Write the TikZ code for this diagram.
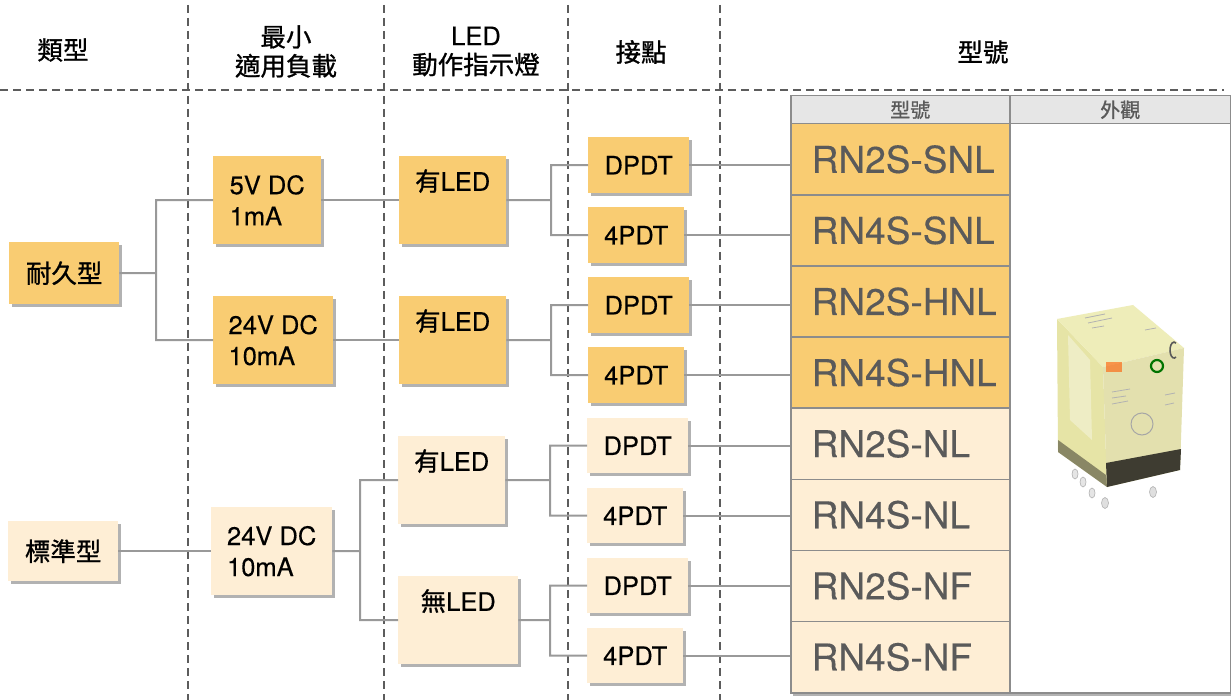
\documentclass[tikz,border=0pt]{standalone}
\usepackage{fontspec}
\setmainfont{TeX Gyre Heros}[FakeBold=0.3]
\newfontfamily\cjk{Noto Sans CJK TC}[FakeBold=1.0]
\usetikzlibrary{shadows}
\definecolor{boxO}{HTML}{F9CC72}
\definecolor{boxL}{HTML}{FEEED5}
\definecolor{connc}{HTML}{999999}
\definecolor{dashc}{HTML}{5C5C5C}
\definecolor{txtg}{HTML}{5A5A5A}
\definecolor{hdrg}{HTML}{E6E6E6}
\definecolor{tline}{HTML}{8C8C8C}
\definecolor{rtop}{HTML}{EEEDB9}
\definecolor{rleft}{HTML}{E6E4A6}
\definecolor{rfront}{HTML}{E3E0AE}
\definecolor{rbase}{HTML}{3E3C31}
\begin{document}
\begin{tikzpicture}[x=1pt,y=-1pt,
  bx/.style={anchor=north west, inner sep=0pt, align=center,
    font=\fontsize{25.5}{31}\selectfont,
    drop shadow={shadow xshift=2.5pt, shadow yshift=-2.5pt, opacity=0.3, fill=black}},
  hi/.style={bx, fill=boxO},
  lo/.style={bx, fill=boxL},
  wire/.style={draw=connc, line width=2pt},
  sepline/.style={draw=dashc, line width=2.5pt, dash pattern=on 8pt off 5pt},
  hdr/.style={font=\fontsize{25.5}{29}\selectfont, align=center, inner sep=0pt},
  cell/.style={anchor=north west, inner sep=0pt, minimum width=219pt, minimum height=71.1pt,
    draw=tline, line width=1.5pt, text width=219pt, align=left,
    font=\fontsize{37}{40}\selectfont, text=txtg},
  thcell/.style={anchor=north west, inner sep=0pt, minimum height=28pt, fill=hdrg,
    draw=tline, line width=1.5pt, font=\fontsize{20}{22}\selectfont, text=txtg},
]
\useasboundingbox (0,0) rectangle (1231,700);

% separators
\draw[sepline] (188,5) -- (188,700);
\draw[sepline] (384,5) -- (384,700);
\draw[sepline] (568,5) -- (568,700);
\draw[sepline] (720,5) -- (720,700);
\draw[sepline] (0,90) -- (1224,90);

% headers
\node[hdr] (hType) at (63,50) {{\cjk 類型}};
\node[hdr] (hLoad) at (286,51.5) {{\cjk 最小}\\{\cjk 適用負載}};
\node[hdr] (hLed) at (476,51.5) {LED\\{\cjk 動作指示燈}};
\node[hdr] (hCon) at (641,52) {{\cjk 接點}};
\node[hdr] (hMod) at (983,52) {{\cjk 型號}};

% table
\node[anchor=north west, inner sep=0pt, minimum width=440pt, minimum height=597pt,
  fill=white, draw=tline, line width=1.5pt,
  drop shadow={shadow xshift=2.5pt, shadow yshift=-3pt, opacity=0.3, fill=black}] (tbl) at (790,95) {};
\node[thcell, minimum width=219pt] (th1) at (790,95) {\hspace*{20pt}{\cjk 型號}};
\node[thcell, minimum width=221pt] (th2) at (1009,95) {{\cjk 外觀}};
\node[cell, fill=boxO] (r1) at (790,123.0) {\hspace*{21pt}RN2S-SNL};
\node[cell, fill=boxO] (r2) at (790,194.1) {\hspace*{21pt}RN4S-SNL};
\node[cell, fill=boxO] (r3) at (790,265.2) {\hspace*{21pt}RN2S-HNL};
\node[cell, fill=boxO] (r4) at (790,336.3) {\hspace*{21pt}RN4S-HNL};
\node[cell, fill=boxL] (r5) at (790,407.4) {\hspace*{21pt}RN2S-NL};
\node[cell, fill=boxL] (r6) at (790,478.5) {\hspace*{21pt}RN4S-NL};
\node[cell, fill=boxL] (r7) at (790,549.6) {\hspace*{21pt}RN2S-NF};
\node[cell, fill=boxL] (r8) at (790,620.7) {\hspace*{21pt}RN4S-NF};
\node[anchor=north west, inner sep=0pt, minimum width=221pt, minimum height=569pt,
  draw=tline, line width=1.5pt, fill=white] (imgc) at (1009,123) {};

% relay picture
\fill[rleft] (1057,319) -- (1103,367) -- (1107,487) -- (1058,452) -- cycle;
\fill[rtop] (1057,319) -- (1133,305) -- (1184,348) -- (1103,367) -- cycle;
\fill[rfront] (1103,367) -- (1184,348) -- (1180,470) -- (1107,487) -- cycle;
\fill[white, opacity=0.35] (1068,335) -- (1090,360) -- (1092,440) -- (1070,420) -- cycle;
\fill[rbase] (1106,463) -- (1181,449) -- (1180,470) -- (1107,487) -- cycle;
\fill[rbase, opacity=0.55] (1058,440) -- (1106,475) -- (1107,487) -- (1058,452) -- cycle;
\draw[gray!70, line width=1pt] (1142,424) circle (11);
\draw[gray!60, line width=0.8pt] (1112,392) -- (1130,389) (1112,398) -- (1126,396)
  (1112,404) -- (1128,401) (1165,395) -- (1175,393) (1165,405) -- (1174,403);
\draw[gray!60, line width=0.8pt] (1085,318) -- (1105,314) (1088,323) -- (1112,318)
  (1092,328) -- (1104,326) (1145,330) -- (1156,328);
\fill[orange!70!red, opacity=0.6] (1106,362) rectangle (1122,372);
\draw[green!45!black, line width=2.2pt] (1157,366) circle (6);
\draw[gray!70!black, line width=1.6pt] (1176,357) arc (60:300:4 and 8);
\fill[gray!20] (1075,474) ellipse (3 and 5);
\fill[gray!20] (1083,482) ellipse (3 and 5);
\fill[gray!20] (1092,493) ellipse (3 and 5);
\fill[gray!25] (1105,503) ellipse (3.5 and 5.5);
\fill[gray!25] (1153,492) ellipse (3.5 and 5.5);
\draw[gray!60, line width=0.6pt] (1075,474) ellipse (3 and 5) (1083,482) ellipse (3 and 5)
  (1092,493) ellipse (3 and 5) (1105,503) ellipse (3.5 and 5.5) (1153,492) ellipse (3.5 and 5.5);

% upper tree boxes
\node[hi, minimum width=110pt, minimum height=62pt] (dur) at (9,242) {{\cjk 耐久型}};
\node[hi, minimum width=108pt, minimum height=88pt, align=left] (v5) at (213,156) {5V DC\\1mA};
\node[hi, minimum width=120pt, minimum height=88pt, align=left] (v24a) at (213,296) {24V DC\\10mA};
\node[hi, minimum width=107pt, minimum height=88pt] (led1) at (399,156) {{\cjk 有}LED\\\strut};
\node[hi, minimum width=107pt, minimum height=88pt] (led2) at (399,296) {{\cjk 有}LED\\\strut};
\node[hi, minimum width=101pt, minimum height=56pt] (dp1) at (588,137) {DPDT};
\node[hi, minimum width=96pt, minimum height=56pt] (fp1) at (588,207) {4PDT};
\node[hi, minimum width=101pt, minimum height=56pt] (dp2) at (588,277) {DPDT};
\node[hi, minimum width=96pt, minimum height=56pt] (fp2) at (588,347) {4PDT};

% lower tree boxes
\node[lo, minimum width=110pt, minimum height=60pt] (std) at (8,521) {{\cjk 標準型}};
\node[lo, minimum width=121pt, minimum height=88pt, align=left] (v24b) at (211,507) {24V DC\\10mA};
\node[lo, minimum width=107pt, minimum height=88pt] (led3) at (398,436) {{\cjk 有}LED\\\strut};
\node[lo, minimum width=120pt, minimum height=88pt] (noled) at (398,576) {{\cjk 無}LED\\\strut};
\node[lo, minimum width=101pt, minimum height=55pt] (dp3) at (587,418) {DPDT};
\node[lo, minimum width=96pt, minimum height=55pt] (fp3) at (587,488) {4PDT};
\node[lo, minimum width=101pt, minimum height=55pt] (dp4) at (587,558) {DPDT};
\node[lo, minimum width=96pt, minimum height=55pt] (fp4) at (587,628) {4PDT};

% connectors
\coordinate (j1) at (156,273);
\coordinate (j2) at (551,200);
\coordinate (j3) at (551,340);
\coordinate (j4) at (360,551);
\coordinate (j5) at (550,480);
\coordinate (j6) at (550,620);
\draw[wire] (dur.east) -- (j1) (v5.west) -| (j1) |- (v24a.west);
\draw[wire] (v5.east) -- (led1.west);
\draw[wire] (v24a.east) -- (led2.west);
\draw[wire] (led1.east) -- (j2) (dp1.west) -| (j2) |- (fp1.west);
\draw[wire] (led2.east) -- (j3) (dp2.west) -| (j3) |- (fp2.west);
\draw[wire] (std.east) -- (v24b.west);
\draw[wire] (v24b.east) -- (j4) (led3.west) -| (j4) |- (noled.west);
\draw[wire] (led3.east) -- (j5) (dp3.west) -| (j5) |- (fp3.west);
\draw[wire] (noled.east) -- (j6) (dp4.west) -| (j6) |- (fp4.west);
\foreach \n in {dp1,fp1,dp2,fp2,dp3,fp3,dp4,fp4}
  \draw[wire] (\n.east) -- (\n.east -| tbl.west);
\end{tikzpicture}
\end{document}
